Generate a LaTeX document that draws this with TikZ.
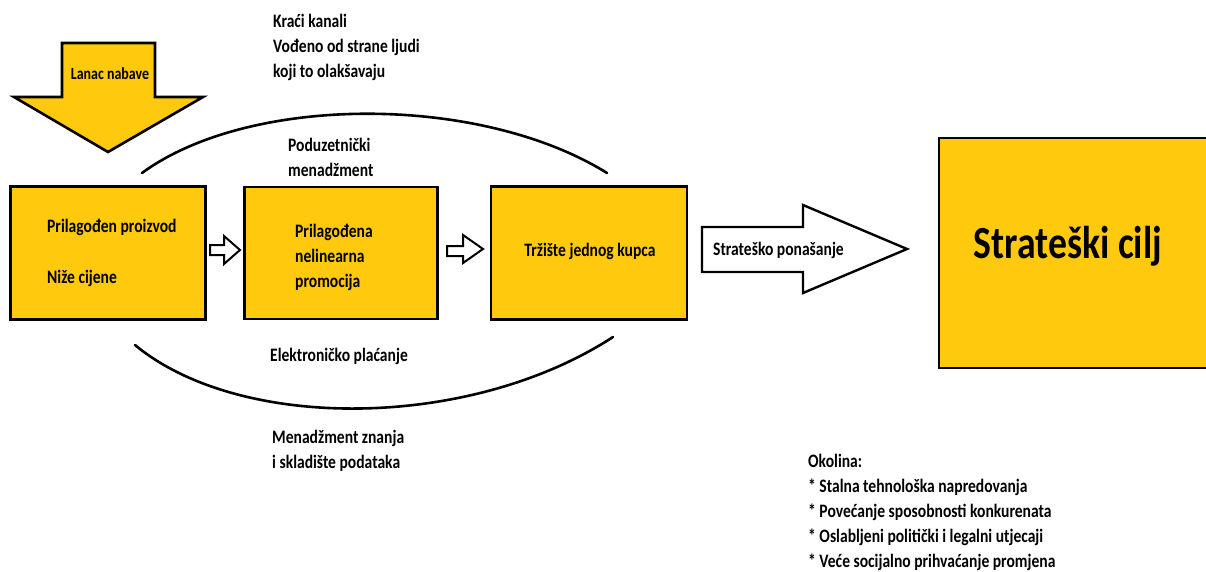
\documentclass[tikz,border=0pt]{standalone}
\usepackage{fontspec}
\setmainfont{Carlito}[FakeStretch=0.82]
\usepackage{tikz}
\usetikzlibrary{calc, positioning}
\definecolor{zlatna}{HTML}{FFC90E}

\tikzset{
    okvir/.style={draw=black, line width=2.6pt, fill=zlatna},
    strelica/.style={draw=black, line width=2.4pt, fill=white, line join=miter},
    luk/.style={draw=black, line width=2.6pt, line cap=round},
    tekst/.style={anchor=west, align=left, inner sep=0pt, font=\bfseries\fontsize{19}{25}\selectfont}
}

\begin{document}
\begin{tikzpicture}[x=1pt, y=-1pt]
    \useasboundingbox (0,0) rectangle (1206,572);

    % lanac nabave
    \draw[okvir, line join=miter] (62,43) -- (155,43) -- (155,97) -- (203,97) -- (108,152)
        -- (14,97) -- (62,97) -- cycle;
    \node[font=\bfseries\fontsize{17}{20}\selectfont] (nabava) at (110,74) {Lanac nabave};

    % okviri
    \node[okvir, minimum width=195pt, minimum height=133pt] (proizvod) at (108,253) {};
    \node[okvir, minimum width=193pt, minimum height=132pt] (promocija) at (341,253) {};
    \node[okvir, minimum width=196pt, minimum height=133pt] (trziste) at (589,253) {};
    \node[okvir, minimum width=270pt, minimum height=230pt] (cilj) at (1074,253) {};

    \node[tekst] at (47,227) {Prilagođen proizvod};
    \node[tekst] at (47,278) {Niže cijene};
    \node[tekst] at (295,257) {Prilagođena\\nelinearna\\promocija};
    \node[tekst, anchor=center] at (590,251) {Tržište jednog kupca};
    \node[font=\bfseries\fontsize{46}{50}\selectfont] at (1068,246) {Strateški cilj};

    % male strelice
    \draw[strelica, line width=2pt] (210,245) -- (224,245) -- (224,236) -- (240,250)
        -- (224,264) -- (224,255) -- (210,255) -- cycle;
    \draw[strelica, line width=2pt] (447,246) -- (463,246) -- (463,235) -- (483,249)
        -- (463,263) -- (463,256) -- (447,256) -- cycle;

    % strateško ponašanje
    \draw[strelica] (702,227) -- (803,227) -- (803,205) -- (907,249) -- (803,293)
        -- (803,272) -- (702,272) -- cycle;
    \node[tekst] at (713,250) {Strateško ponašanje};

    % lukovi
    \draw[luk] (142,173) .. controls (250,94) and (480,94) .. (607,173);
    \draw[luk] (135,345) .. controls (240,432) and (470,430) .. (613,337);

    \node[tekst] at (273,47) {Kraći kanali\\Vođeno od strane ljudi\\koji to olakšavaju};
    \node[tekst] at (288,157) {Poduzetnički\\menadžment};
    \node[tekst, anchor=center] at (339,356) {Elektroničko plaćanje};
    \node[tekst] at (272,451) {Menadžment znanja\\i skladište podataka};

    % okolina
    \node[tekst] at (808,512)
        {Okolina:\\* Stalna tehnološka napredovanja\\* Povećanje sposobnosti konkurenata\\%
        * Oslabljeni politički i legalni utjecaji\\* Veće socijalno prihvaćanje promjena};
\end{tikzpicture}
\end{document}
